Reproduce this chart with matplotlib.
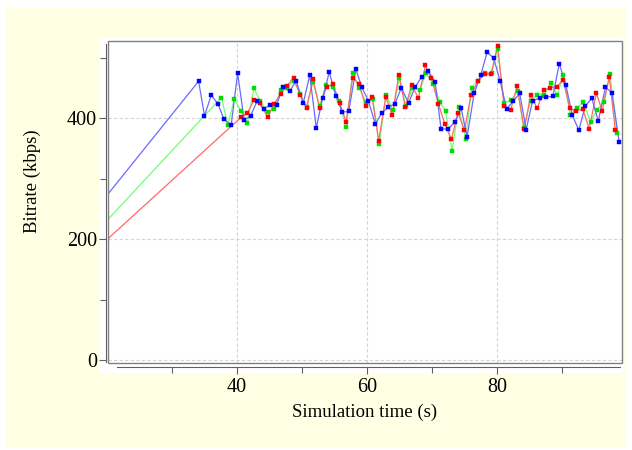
import matplotlib
matplotlib.use("Agg")
import matplotlib.pyplot as plt
from matplotlib.patches import Rectangle
from matplotlib.ticker import MultipleLocator

plt.rcParams['font.family'] = ['Liberation Serif', 'DejaVu Serif']

blue_x = [20.2, 34.1, 35.0, 36.05, 37.1, 38.0, 39.1, 40.1, 41.1, 42.1, 43.1, 44.1, 45.1, 46.1, 47.1,
          48.1, 49.1, 50.2, 51.2, 52.2, 53.2, 54.2, 55.2, 56.2, 57.2, 58.3, 59.2, 60.2, 61.3, 62.3,
          63.3, 64.3, 65.3, 66.4, 67.4, 68.4, 69.4, 70.5, 71.4, 72.5, 73.5, 74.5, 75.4, 76.5, 77.5,
          78.5, 79.5, 80.5, 81.5, 82.5, 83.5, 84.5, 85.5, 86.6, 87.5, 88.6, 89.6, 90.6, 91.6, 92.6,
          93.6, 94.6, 95.6, 96.7, 97.7, 98.8]
blue_y = [275, 461, 404, 438, 423, 398, 388, 474, 397, 404, 428, 415, 422, 422, 452,
          444, 462, 425, 471, 384, 434, 476, 437, 410, 411, 481, 451, 429, 390, 409,
          418, 424, 450, 425, 451, 468, 478, 460, 382, 382, 393, 416, 369, 441, 471,
          509, 499, 461, 415, 428, 441, 381, 429, 433, 435, 436, 490, 455, 405, 380,
          420, 433, 395, 451, 442, 361]

red_x = [20.2, 40.6, 41.6, 42.6, 43.6, 44.7, 45.7, 46.7, 47.7, 48.7, 49.7, 50.7, 51.7, 52.7, 53.8,
         54.8, 55.8, 56.8, 57.8, 58.8, 59.8, 60.8, 61.8, 62.9, 63.9, 64.9, 65.9, 66.9, 67.9, 69.0,
         69.9, 71.0, 72.0, 73.0, 74.0, 75.0, 76.0, 77.1, 78.1, 79.1, 80.1, 81.1, 82.1, 83.1, 84.2,
         85.2, 86.2, 87.2, 88.2, 89.2, 90.2, 91.2, 92.2, 93.2, 94.2, 95.3, 96.2, 97.3, 98.2]
red_y = [201, 401, 408, 430, 425, 401, 423, 440, 453, 467, 439, 417, 464, 417, 452,
         456, 425, 394, 467, 456, 420, 435, 362, 435, 405, 472, 418, 455, 433, 487,
         467, 423, 390, 365, 409, 380, 438, 461, 473, 473, 520, 420, 413, 453, 382,
         438, 416, 446, 450, 452, 463, 416, 412, 415, 382, 441, 412, 468, 381]

green_x = [20.2, 37.6, 38.6, 39.6, 40.6, 41.6, 42.6, 43.6, 44.7, 45.7, 46.7, 47.7, 48.7, 49.7, 50.7,
           51.7, 52.7, 53.7, 54.7, 55.7, 56.8, 57.8, 58.8, 59.9, 60.9, 61.9, 62.9, 64.0, 65.0, 66.0,
           67.0, 68.1, 69.1, 70.2, 71.2, 72.1, 73.1, 74.1, 75.2, 76.1, 77.1, 78.2, 79.2, 80.1, 81.1,
           82.2, 83.2, 84.1, 85.2, 86.2, 87.3, 88.3, 89.3, 90.2, 91.3, 92.3, 93.3, 94.4, 95.4, 96.4,
           97.4, 98.5]
green_y = [233, 434, 389, 432, 412, 392, 449, 428, 410, 415, 446, 450, 462, 440, 418,
           460, 420, 455, 452, 428, 386, 474, 450, 425, 432, 357, 438, 413, 466, 420,
           450, 446, 474, 457, 427, 412, 345, 418, 365, 450, 462, 474, 474, 515, 425,
           430, 445, 384, 428, 439, 439, 458, 438, 471, 405, 417, 426, 394, 413, 427,
           473, 375]

x_major = [40, 60, 80]
y_major = [0, 200, 400]
x_label = "Simulation time (s)"
y_label = "Bitrate (kbps)"

W, H = 632, 450
fig = plt.figure(figsize=(W / 100, H / 100), dpi=100)
fig.patch.set_facecolor('white')
# yellow panel
fig.patches.append(Rectangle((5 / W, 1 - 447 / H), (626 - 5) / W, (447 - 8) / H,
                             transform=fig.transFigure, facecolor='#FFFFE3',
                             edgecolor='none', zorder=-10))
# white inner plot region
fig.patches.append(Rectangle((100 / W, 1 - 373 / H), (623 - 100) / W, (373 - 38) / H,
                             transform=fig.transFigure, facecolor='white',
                             edgecolor='none', zorder=-9))

left, right, top, bottom = 108.3, 621.7, 40.7, 362.7
ax = fig.add_axes([left / W, 1 - bottom / H, (right - left) / W, (bottom - top) / H])
ax.set_facecolor('white')

ax.set_xlim(20.2, 99.2)
ax.set_ylim(-4.5, 528)

grid_kw = dict(color='#d4d4d4', linewidth=0.8, linestyle=(0, (3, 2)), zorder=0)
for gx in x_major:
    ax.axvline(gx, **grid_kw)
for gy in y_major:
    ax.axhline(gy, **grid_kw)

series = [
    (green_x, green_y, '#70ff70', '#00dd00', 2.5),
    (red_x, red_y, '#ff6a6a', '#ff0000', 3.0),
    (blue_x, blue_y, '#6a6aff', '#0000ff', 3.1),
]
for i, (xs, ys, lc, mc, ms) in enumerate(series):
    ax.plot(xs, ys, color=lc, linewidth=0.9, zorder=2 + i)
    ax.plot(xs[1:], ys[1:], linestyle='none', marker='s', markersize=ms,
            markerfacecolor=mc, markeredgecolor=mc, markeredgewidth=0.3, zorder=5 + i)

# plot box
ax.add_patch(Rectangle((0, 0), 1, 1, transform=ax.transAxes, fill=False,
                       edgecolor='#808080', linewidth=1.0, zorder=10, clip_on=False))

for s in ['top', 'right']:
    ax.spines[s].set_visible(False)
ax.spines['left'].set_position(('outward', 1.5))
ax.spines['bottom'].set_position(('outward', 3))
ax.spines['left'].set_color('#606060')
ax.spines['bottom'].set_color('#606060')
ax.spines['left'].set_bounds(-4, 522)
ax.spines['bottom'].set_bounds(21.5, 98.9)

ax.set_xticks(x_major)
ax.set_yticks(y_major)
ax.xaxis.set_minor_locator(MultipleLocator(10))
ax.yaxis.set_minor_locator(MultipleLocator(100))
ax.tick_params(axis='both', which='major', direction='out', length=5, width=0.8,
               color='#606060', labelsize=14.5, labelcolor='black', pad=1.5)
ax.tick_params(axis='both', which='minor', direction='out', length=4, width=0.8,
               color='#606060')
ax.tick_params(axis='x', which='major', pad=3)

ax.set_xlabel(x_label, fontsize=13.5, labelpad=5)
ax.set_ylabel(y_label, fontsize=13.5)
ax.yaxis.set_label_coords(-0.131, 0.564)

fig.savefig('out.png', dpi=100, facecolor=fig.get_facecolor())
